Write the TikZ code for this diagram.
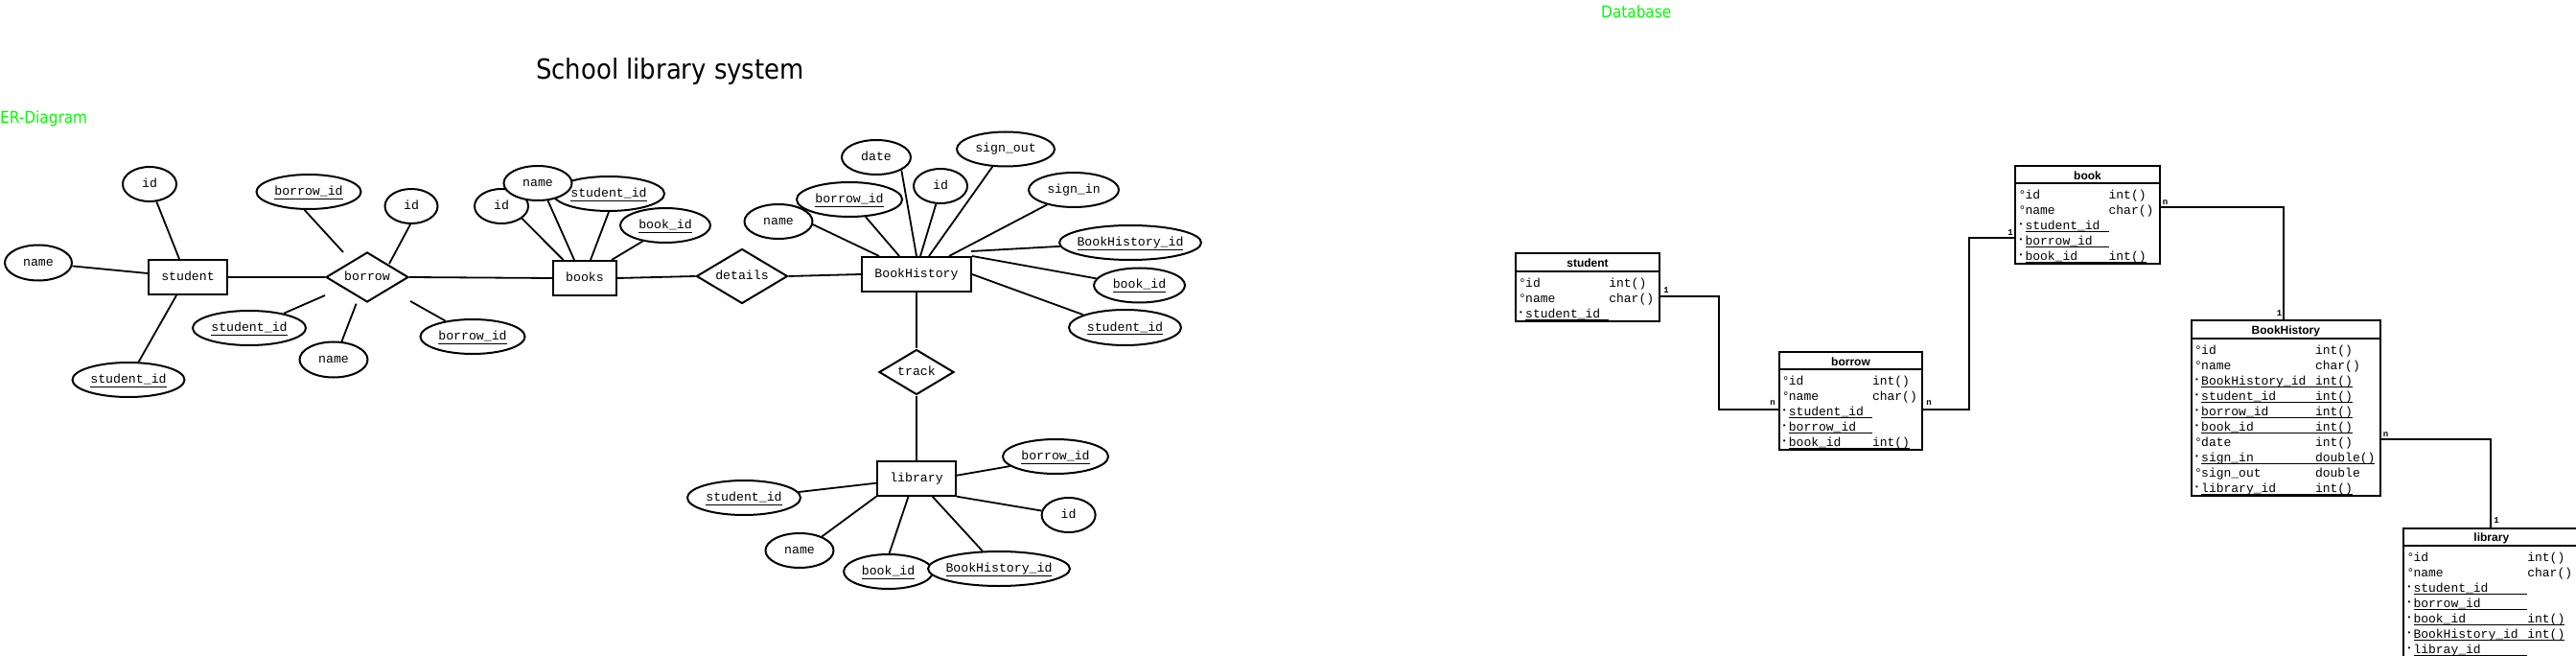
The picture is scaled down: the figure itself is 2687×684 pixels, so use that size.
\documentclass[tikz,border=0pt]{standalone}
\usepackage{fontspec}
\usetikzlibrary{shapes.geometric}
\newfontfamily\monofam{Liberation Mono}
\newfontfamily\headfam{Liberation Sans}
\newfontfamily\condfam[FakeStretch=0.9]{DejaVu Sans}
\definecolor{erGreen}{HTML}{00FF00}
\newcommand\erfont{\monofam\fontsize{13.2}{15}\selectfont}
\newcommand\dbfont{\monofam\fontsize{13}{15}\selectfont}
\newcommand\hdfont{\headfam\bfseries\fontsize{12}{14}\selectfont}
\newcommand\cdfont{\monofam\bfseries\fontsize{9}{10}\selectfont}
\newcommand\labfont{\condfam\fontsize{17}{19}\selectfont}
\newcommand\ulE[1]{\setbox0\hbox{#1}\rlap{\raisebox{-4.5pt}{\rule{\wd0}{1.2pt}}}\box0}
\newcommand\ulD[1]{\setbox0\hbox{#1}\rlap{\raisebox{-2.2pt}{\rule{\wd0}{0.9pt}}}\box0}
\newcommand\mkO{\makebox[7pt][l]{°}}
\newcommand\mkK{\makebox[7pt][l]{\raisebox{3.2pt}{\fontsize{8}{8}\selectfont •}}}
\newcommand\fld[2]{\makebox[#1pt][l]{#2}}
\tikzset{
  ent/.style={draw, line width=2pt, rectangle, inner sep=0pt, text height=7pt, text depth=0pt, font=\erfont},
  attr/.style={draw, line width=2pt, ellipse, inner sep=0pt, fill=white, text height=7pt, text depth=0pt, font=\erfont},
  rel/.style={draw, line width=2pt, diamond, aspect=1.65, inner sep=0pt, fill=white, text height=7pt, text depth=0pt, font=\erfont},
  link/.style={line width=1.8pt},
  tbl/.style={draw, line width=2pt, rectangle, inner sep=0pt, outer sep=0pt, anchor=north west},
  thead/.style={font=\hdfont, anchor=base, inner sep=0pt},
  trow/.style={font=\dbfont, anchor=base west, inner sep=0pt},
  card/.style={font=\cdfont, inner sep=0pt},
  fk/.style={line width=2pt},
}
\begin{document}
\begin{tikzpicture}[x=1pt, y=-1pt]
\useasboundingbox (0,0) rectangle (2687,684);
\clip (0,0) rectangle (2687,684);
\fill[white] (0,0) rectangle (2687,684);

% ---------- titles ----------
\node[anchor=base, inner sep=0pt] (title) at (699,82.7) {\condfam\fontsize{28.8}{30}\selectfont School library system};
\node[anchor=base west, inner sep=0pt, text=erGreen] (erlab) at (0,128.3) {\labfont ER-Diagram};
\node[anchor=base west, inner sep=0pt, text=erGreen] (dblab) at (1670,18.3) {\labfont Database};

% ---------- ER diagram ----------
\node[ent, minimum width=82pt, minimum height=36pt] (st) at (196,289) {student};
\node[attr, minimum width=70pt, minimum height=37pt] (nm1) at (40,274) {name};
\node[attr, minimum width=56pt, minimum height=36pt] (id1) at (156,192) {id};
\node[attr, minimum width=117pt, minimum height=36pt] (sid1) at (134,396) {\ulE{student\_id}};

\node[rel, minimum width=86pt, minimum height=52pt] (bw) at (383,289) {borrow};
\node[attr, minimum width=109pt, minimum height=36pt] (bwid1) at (322,200) {\ulE{borrow\_id}};
\node[attr, minimum width=55pt, minimum height=36pt] (id2) at (429,215) {id};
\node[attr, minimum width=118pt, minimum height=36pt] (sid2) at (260,342) {\ulE{student\_id}};
\node[attr, minimum width=71pt, minimum height=37pt] (nm2) at (348,375) {name};
\node[attr, minimum width=109pt, minimum height=36pt] (bwid2) at (493,351) {\ulE{borrow\_id}};

\node[ent, minimum width=66pt, minimum height=36pt] (bk) at (610,290) {books};
\node[attr, minimum width=116pt, minimum height=36pt] (sid3) at (635,202) {\ulE{student\_id}};
\node[attr, minimum width=56pt, minimum height=36pt] (id3) at (523,215) {id};
\node[attr, minimum width=71pt, minimum height=36pt] (nm3) at (561,191) {name};
\node[attr, minimum width=94pt, minimum height=36pt] (bkid1) at (694,235) {\ulE{book\_id}};

\node[rel, minimum width=95pt, minimum height=57pt] (dt) at (774,288) {details};

\node[ent, minimum width=114pt, minimum height=36pt] (bh) at (956,286) {BookHistory};
\node[attr, minimum width=72pt, minimum height=36pt] (date) at (914,164) {date};
\node[attr, minimum width=102pt, minimum height=36pt] (so) at (1049,155.5) {sign\_out};
\node[attr, minimum width=56pt, minimum height=36pt] (id4) at (981,194) {id};
\node[attr, minimum width=94pt, minimum height=36pt] (si) at (1120,198) {sign\_in};
\node[attr, minimum width=110pt, minimum height=36pt] (bwid3) at (886,208) {\ulE{borrow\_id}};
\node[attr, minimum width=71pt, minimum height=36pt] (nm4) at (812,231) {name};
\node[attr, minimum width=148pt, minimum height=36pt] (bhid1) at (1179,253) {\makebox[0pt]{\ulE{BookHistory\_id}}};
\node[attr, minimum width=95pt, minimum height=36pt] (bkid2) at (1188.5,297.5) {\ulE{book\_id}};
\node[attr, minimum width=117pt, minimum height=37pt] (sid4) at (1173.5,341.5) {\ulE{student\_id}};

\node[rel, minimum width=78pt, minimum height=47pt] (tr) at (956,388) {track};

\node[ent, minimum width=82pt, minimum height=36pt] (lib) at (956,498.7) {library};
\node[attr, minimum width=110pt, minimum height=36pt] (bwid4) at (1101,476) {\ulE{borrow\_id}};
\node[attr, minimum width=56pt, minimum height=36pt] (id5) at (1114.6,537) {id};
\node[attr, minimum width=118pt, minimum height=36pt] (sid5) at (776,519) {\ulE{student\_id}};
\node[attr, minimum width=71pt, minimum height=36pt] (nm5) at (834,574) {name};
\node[attr, minimum width=93pt, minimum height=36pt] (bkid3) at (926.6,596) {\ulE{book\_id}};
\node[attr, minimum width=148pt, minimum height=36pt] (bhid2) at (1042,593) {\makebox[0pt]{\ulE{BookHistory\_id}}};

% free ends near the borrow diamond
\coordinate (bwA) at ([shift={(-25,-26)}]bw.center);
\coordinate (bwB) at ([shift={(23,-14)}]bw.center);
\coordinate (bwC) at ([shift={(-44,19)}]bw.center);
\coordinate (bwD) at ([shift={(-11.4,27.7)}]bw.center);
\coordinate (bwE) at ([shift={(45,25)}]bw.center);

% ER connectors
\draw[link] ([shift={(33,0)}]st.north west) -- (id1);
\draw[link] ([shift={(0,-4)}]st.west) -- (nm1);
\draw[link] ([shift={(30,0)}]st.south west) -- (sid1);
\draw[link] (st.east) -- (bw.west);
\draw[link] (bwid1.257) -- (bwA);
\draw[link] (bwB) -- (id2.267);
\draw[link] (bwC) -- (sid2.23);
\draw[link] (bwD) -- (nm2.66);
\draw[link] (bwE) -- (bwid2.150);
\draw[link] (bw.east) -- (bk.west);
\draw[link] ([shift={(11.5,0)}]bk.north west) -- (id3.329);
\draw[link] ([shift={(23,0)}]bk.north west) -- (nm3.300);
\draw[link] ([shift={(40,0)}]bk.north west) -- (sid3.south);
\draw[link] ([shift={(62,0)}]bk.north west) -- (bkid1.215);
\draw[link] (bk.east) -- (dt.west);
\draw[link] (dt.east) -- (bh.west);
\draw[link] ([shift={(19,0)}]bh.north west) -- (nm4.355);
\draw[link] ([shift={(40,0)}]bh.north west) -- (bwid3.313);
\draw[link] (bh.north) -- (date.333);
\draw[link] ([shift={(62,0)}]bh.north west) -- (id4.256);
\draw[link] ([shift={(71,0)}]bh.north west) -- (so.233);
\draw[link] ([shift={(92,0)}]bh.north west) -- (si.209);
\draw[link] ([shift={(-1,-5)}]bh.north east) -- (bhid1.183);
\draw[link] (bh.north east) -- (bkid2.171);
\draw[link] (bh.east) -- (sid4.163);
\draw[link] (bh.south) -- (tr.north);
\draw[link] (tr.south) -- (lib.north);
\draw[link] ([shift={(0,-3)}]lib.east) -- (bwid4.192);
\draw[link] ([shift={(0,5)}]lib.west) -- (sid5.6);
\draw[link] (lib.south west) -- (nm5.32);
\draw[link] ([shift={(33.5,0)}]lib.south west) -- (bkid3.87);
\draw[link] ([shift={(58.6,0)}]lib.south west) -- (bhid2.133);
\draw[link] (lib.south east) -- (id5.171);

% ---------- Database tables ----------
% student
\node[tbl, minimum width=150pt, minimum height=70.7pt] (tst) at (1581,264.3) {};
\draw[line width=2pt] ([shift={(0,18.4)}]tst.north west) -- ([shift={(0,18.4)}]tst.north east);
\node[thead] (tsth) at ([shift={(0,14.6)}]tst.north) {student};
\node[trow] (ts1) at (1584,299.3) {\mkO\fld{87.1}{id}int()};
\node[trow] (ts2) at (1584,315.3) {\mkO\fld{87.1}{name}char()};
\node[trow] (ts3) at (1584,331.3) {\mkK\ulD{\fld{87.1}{student\_id}}};

% borrow
\node[tbl, minimum width=149.6pt, minimum height=102.3pt] (tbw) at (1855.7,366.7) {};
\draw[line width=2pt] ([shift={(0,18.4)}]tbw.north west) -- ([shift={(0,18.4)}]tbw.north east);
\node[thead] (tbwh) at ([shift={(0,14.6)}]tbw.north) {borrow};
\node[trow] (tb1) at (1858.7,401.6) {\mkO\fld{87.1}{id}int()};
\node[trow] (tb2) at (1858.7,417.6) {\mkO\fld{87.1}{name}char()};
\node[trow] (tb3) at (1858.7,433.6) {\mkK\ulD{\fld{87.1}{student\_id}}};
\node[trow] (tb4) at (1858.7,449.6) {\mkK\ulD{\fld{87.1}{borrow\_id}}};
\node[trow] (tb5) at (1858.7,465.6) {\mkK\ulD{\fld{87.1}{book\_id}int()}};

% book
\node[tbl, minimum width=150.4pt, minimum height=102.3pt] (tbk) at (2102.3,172.7) {};
\draw[line width=2pt] ([shift={(0,18.4)}]tbk.north west) -- ([shift={(0,18.4)}]tbk.north east);
\node[thead] (tbkh) at ([shift={(0,14.6)}]tbk.north) {book};
\node[trow] (tk1) at (2105.3,207.6) {\mkO\fld{87.1}{id}int()};
\node[trow] (tk2) at (2105.3,223.6) {\mkO\fld{87.1}{name}char()};
\node[trow] (tk3) at (2105.3,239.6) {\mkK\ulD{\fld{87.1}{student\_id}}};
\node[trow] (tk4) at (2105.3,255.6) {\mkK\ulD{\fld{87.1}{borrow\_id}}};
\node[trow] (tk5) at (2105.3,271.6) {\mkK\ulD{\fld{87.1}{book\_id}int()}};

% BookHistory
\node[tbl, minimum width=196.7pt, minimum height=183.3pt] (tbh) at (2286,334) {};
\draw[line width=2pt] ([shift={(0,18.6)}]tbh.north west) -- ([shift={(0,18.6)}]tbh.north east);
\node[thead] (tbhh) at ([shift={(0,14.6)}]tbh.north) {BookHistory};
\node[trow] (th1) at (2289,369.3) {\mkO\fld{118.8}{id}int()};
\node[trow] (th2) at (2289,385.3) {\mkO\fld{118.8}{name}char()};
\node[trow] (th3) at (2289,401.3) {\mkK\ulD{\fld{118.8}{BookHistory\_id}int()}};
\node[trow] (th4) at (2289,417.3) {\mkK\ulD{\fld{118.8}{student\_id}int()}};
\node[trow] (th5) at (2289,433.3) {\mkK\ulD{\fld{118.8}{borrow\_id}int()}};
\node[trow] (th6) at (2289,449.3) {\mkK\ulD{\fld{118.8}{book\_id}int()}};
\node[trow] (th7) at (2289,465.3) {\mkO\fld{118.8}{date}int()};
\node[trow] (th8) at (2289,481.3) {\mkK\ulD{\fld{118.8}{sign\_in}double()}};
\node[trow] (th9) at (2289,497.3) {\mkO\fld{118.8}{sign\_out}double};
\node[trow] (th10) at (2289,513.3) {\mkK\ulD{\fld{118.8}{library\_id}int()}};

% library
\node[tbl, minimum width=183pt, minimum height=140pt] (tlib) at (2507.3,550.7) {};
\draw[line width=2pt] ([shift={(0,17.8)}]tlib.north west) -- ([shift={(0,17.8)}]tlib.north east);
\node[thead] (tlibh) at ([shift={(0,14)}]tlib.north) {library};
\node[trow] (tl1) at (2510.3,585.3) {\mkO\fld{118.8}{id}int()};
\node[trow] (tl2) at (2510.3,601.3) {\mkO\fld{118.8}{name}char()};
\node[trow] (tl3) at (2510.3,617.3) {\mkK\ulD{\fld{118.8}{student\_id}}};
\node[trow] (tl4) at (2510.3,633.3) {\mkK\ulD{\fld{118.8}{borrow\_id}}};
\node[trow] (tl5) at (2510.3,649.3) {\mkK\ulD{\fld{118.8}{book\_id}int()}};
\node[trow] (tl6) at (2510.3,665.3) {\mkK\ulD{\fld{118.8}{BookHistory\_id}int()}};
\node[trow] (tl7) at (2510.3,681.3) {\mkK\ulD{\fld{118.8}{libray\_id}}};

% relations between tables
\draw[fk] ([shift={(0,9.3)}]tst.east) -- ++(62.3,0) |- ([shift={(0,8.85)}]tbw.west);
\draw[fk] ([shift={(0,8.85)}]tbw.east) -- ++(49,0) |- ([shift={(0,24.45)}]tbk.west);
\draw[fk] ([shift={(0,-8.15)}]tbk.east) -| ([shift={(-2,0)}]tbh.north);
\draw[fk] ([shift={(0,32.65)}]tbh.east) -| ([shift={(-1,0)}]tlib.north);

\node[card] (c1) at (1738,302.5) {1};
\node[card] (c2) at (1849,420.5) {n};
\node[card] (c3) at (2012,420.5) {n};
\node[card] (c4) at (2097,243) {1};
\node[card] (c5) at (2258.5,211) {n};
\node[card] (c6) at (2377.5,327) {1};
\node[card] (c7) at (2488.5,453) {n};
\node[card] (c8) at (2604,543) {1};
\end{tikzpicture}
\end{document}
